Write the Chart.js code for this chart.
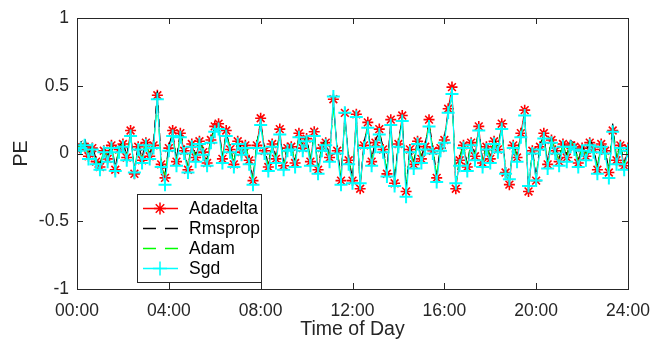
<!DOCTYPE html>
<html>
<head>
<meta charset="utf-8">
<script src="https://cdn.jsdelivr.net/npm/chart.js@4/dist/chart.umd.min.js"></script>
<style>
  html, body { margin: 0; padding: 0; background: #fff; }
  #wrap { width: 650px; height: 339px; }
</style>
</head>
<body>
<div id="wrap"><canvas id="pe-chart" width="650" height="339"></canvas></div>
<script>
// Time axis: one sample every 10 minutes, in hours
const hours = Array.from({ length: 145 }, (_, i) => i / 6);

// Prediction error per optimiser, 12 samples = 2 hours per row
const adadelta = [
  0.03, 0.05, 0.05, -0.02, 0.04, -0.06, -0.10, 0.02, -0.04, 0.06, -0.12, 0.03,
  0.07, -0.03, 0.17, -0.15, 0.05, -0.05, 0.08, -0.02, 0.06, 0.43, -0.08, -0.18,
  0.04, 0.17, -0.06, 0.15, 0.02, -0.12, 0.07, -0.03, 0.09, 0.01, -0.07, 0.10,
  0.20, 0.22, -0.04, 0.17, 0.03, -0.08, 0.09, 0.01, 0.06, -0.05, -0.20, 0.06,
  0.26, 0.02, -0.10, 0.07, -0.04, 0.18, -0.09, 0.04, 0.05, -0.07, 0.15, 0.04,
  0.11, -0.06, 0.16, -0.12, 0.04, 0.08, -0.03, 0.40, 0.02, -0.20, 0.30, -0.05,
  -0.20, 0.29, -0.26, 0.06, 0.23, -0.06, 0.08, 0.18, 0.03, -0.15, 0.25, -0.22,
  0.07, 0.28, -0.28, 0.03, -0.08, 0.09, -0.04, 0.05, 0.25, 0.02, -0.18, 0.04,
  0.10, 0.33, 0.49, -0.26, -0.05, 0.06, -0.10, 0.08, -0.02, 0.20, -0.07, 0.05,
  -0.04, 0.09, 0.03, 0.22, -0.14, -0.23, 0.06, -0.03, 0.15, 0.32, -0.28, 0.02,
  -0.20, 0.05, 0.15, -0.08, 0.10, 0.02, -0.06, 0.07, -0.03, 0.06, 0.05, -0.07,
  0.04, -0.02, 0.08, 0.03, -0.12, 0.07, 0.02, -0.14, 0.17, -0.05, 0.06, -0.09,
  0.04
];
const rmsprop = [
  0.05, 0.08, 0.12, 0.00, 0.06, -0.04, -0.08, 0.04, -0.02, 0.08, -0.10, 0.05,
  0.09, -0.01, 0.15, -0.12, 0.07, -0.03, 0.10, 0.00, 0.08, 0.48, -0.06, -0.15,
  0.06, 0.15, -0.04, 0.17, 0.04, -0.10, 0.09, -0.01, 0.11, 0.03, -0.05, 0.12,
  0.18, 0.21, -0.02, 0.15, 0.05, -0.06, 0.11, 0.03, 0.08, -0.03, -0.18, 0.08,
  0.23, 0.04, -0.08, 0.09, -0.02, 0.16, -0.07, 0.06, 0.07, -0.05, 0.13, 0.06,
  0.13, -0.04, 0.15, -0.10, 0.06, 0.10, -0.01, 0.36, 0.04, -0.17, 0.27, -0.03,
  -0.18, 0.26, -0.23, 0.08, 0.21, -0.04, 0.10, 0.16, 0.05, -0.12, 0.22, -0.19,
  0.09, 0.26, -0.25, 0.05, -0.06, 0.11, -0.02, 0.07, 0.23, 0.04, -0.15, 0.06,
  0.12, 0.30, 0.46, -0.23, -0.03, 0.08, -0.08, 0.10, 0.00, 0.19, -0.05, 0.07,
  -0.02, 0.11, 0.05, 0.20, -0.12, -0.20, 0.08, -0.01, 0.14, 0.29, -0.25, 0.04,
  -0.17, 0.07, 0.13, -0.06, 0.12, 0.04, -0.04, 0.09, -0.01, 0.10, 0.07, -0.05,
  0.06, 0.00, 0.11, 0.05, -0.10, 0.09, 0.04, -0.12, 0.22, -0.03, 0.08, -0.07,
  0.06
];
const adam = [
  0.04, 0.06, 0.08, -0.01, 0.05, -0.05, -0.09, 0.03, -0.03, 0.07, -0.11, 0.04,
  0.08, -0.02, 0.14, -0.13, 0.06, -0.04, 0.09, -0.01, 0.07, 0.36, -0.07, -0.16,
  0.05, 0.14, -0.05, 0.14, 0.03, -0.11, 0.08, -0.02, 0.10, 0.02, -0.06, 0.11,
  0.17, 0.19, -0.03, 0.14, 0.04, -0.07, 0.10, 0.02, 0.07, -0.04, -0.19, 0.07,
  0.22, 0.03, -0.09, 0.08, -0.03, 0.15, -0.08, 0.05, 0.06, -0.06, 0.12, 0.05,
  0.12, -0.05, 0.14, -0.11, 0.05, 0.09, -0.02, 0.34, 0.03, -0.18, 0.25, -0.04,
  -0.19, 0.25, -0.24, 0.07, 0.20, -0.05, 0.09, 0.15, 0.04, -0.13, 0.21, -0.20,
  0.08, 0.25, -0.26, 0.04, -0.07, 0.10, -0.03, 0.06, 0.22, 0.03, -0.16, 0.05,
  0.11, 0.28, 0.42, -0.24, -0.04, 0.07, -0.09, 0.09, -0.01, 0.18, -0.06, 0.06,
  -0.03, 0.10, 0.04, 0.19, -0.13, -0.21, 0.07, -0.02, 0.13, 0.27, -0.26, 0.03,
  -0.18, 0.06, 0.12, -0.07, 0.11, 0.03, -0.05, 0.08, -0.02, 0.09, 0.06, -0.06,
  0.05, -0.01, 0.10, 0.04, -0.11, 0.08, 0.03, -0.13, 0.18, -0.04, 0.07, -0.08,
  0.05
];
const sgd = [
  0.02, 0.04, 0.06, -0.04, 0.03, -0.08, -0.12, 0.01, -0.06, 0.04, -0.13, 0.01,
  0.05, -0.05, 0.13, -0.14, 0.03, -0.07, 0.06, -0.04, 0.04, 0.40, -0.10, -0.23,
  0.02, 0.13, -0.09, 0.12, 0.00, -0.14, 0.05, -0.06, 0.07, -0.01, -0.09, 0.08,
  0.16, 0.18, -0.07, 0.13, 0.01, -0.10, 0.07, -0.01, 0.04, -0.08, -0.23, 0.04,
  0.21, 0.00, -0.13, 0.05, -0.07, 0.14, -0.12, 0.02, 0.03, -0.10, 0.12, 0.02,
  0.09, -0.09, 0.13, -0.15, 0.02, 0.06, -0.06, 0.42, 0.00, -0.23, 0.30, -0.08,
  -0.22, 0.27, -0.22, 0.04, 0.19, -0.09, 0.05, 0.14, 0.01, -0.17, 0.21, -0.24,
  0.05, 0.24, -0.32, 0.01, -0.11, 0.07, -0.07, 0.03, 0.20, 0.00, -0.21, 0.02,
  0.08, 0.30, 0.44, -0.22, -0.09, 0.04, -0.13, 0.06, -0.05, 0.17, -0.10, 0.03,
  -0.07, 0.07, 0.01, 0.18, -0.15, -0.19, 0.04, -0.06, 0.12, 0.28, -0.24, 0.00,
  -0.20, 0.03, 0.11, -0.11, 0.08, 0.00, -0.09, 0.05, -0.06, 0.05, 0.03, -0.10,
  0.02, -0.05, 0.06, 0.01, -0.15, 0.05, 0.00, -0.18, 0.16, -0.08, 0.04, -0.12,
  0.02
];

const seriesNames = ['Adadelta', 'Rmsprop', 'Adam', 'Sgd'];
const yTicks = [-1, -0.5, 0, 0.5, 1];
const xTickHours = [0, 4, 8, 12, 16, 20, 24];

const FONT = 'Arial, "Liberation Sans", Helvetica, sans-serif';
const TEXT = '#262626';

function toPoints(values) {
  return values.map((v, i) => ({ x: hours[i], y: v }));
}

// Box round the axes with MATLAB-style inward ticks
const boxPlugin = {
  id: 'matlabBox',
  afterDatasetsDraw(chart) {
    const { ctx, chartArea: a, scales } = chart;
    ctx.save();
    ctx.strokeStyle = TEXT;
    ctx.lineWidth = 1;
    ctx.strokeRect(Math.round(a.left) + 0.5, Math.round(a.top) + 0.5,
      Math.round(a.right - a.left), Math.round(a.bottom - a.top));
    ctx.beginPath();
    xTickHours.forEach(h => {
      const x = Math.round(scales.x.getPixelForValue(h)) + 0.5;
      ctx.moveTo(x, a.bottom); ctx.lineTo(x, a.bottom - 6);
      ctx.moveTo(x, a.top); ctx.lineTo(x, a.top + 6);
    });
    yTicks.forEach(v => {
      const y = Math.round(scales.y.getPixelForValue(v)) + 0.5;
      ctx.moveTo(a.left, y); ctx.lineTo(a.left + 6, y);
      ctx.moveTo(a.right, y); ctx.lineTo(a.right - 6, y);
    });
    ctx.stroke();
    ctx.restore();
  }
};

// Legend drawn inside the axes, lower left
const legendPlugin = {
  id: 'insideLegend',
  afterDraw(chart) {
    const ctx = chart.ctx;
    const left = 137, top = 194, w = 124, h = 88;
    ctx.save();
    ctx.fillStyle = '#fff';
    ctx.fillRect(left, top, w, h);
    ctx.strokeStyle = TEXT;
    ctx.lineWidth = 1;
    ctx.strokeRect(left + 0.5, top + 0.5, w, h);
    ctx.font = '17.5px ' + FONT;
    ctx.textBaseline = 'middle';
    chart.data.datasets.forEach((ds, i) => {
      const y = top + 14 + i * 20 + 0.5;
      ctx.strokeStyle = ds.borderColor;
      ctx.lineWidth = 1.5;
      ctx.setLineDash(ds.borderDash ? [13, 9] : []);
      ctx.beginPath();
      ctx.moveTo(left + 6, y);
      ctx.lineTo(left + 41, y);
      ctx.stroke();
      ctx.setLineDash([]);
      if (ds.pointRadius > 0) {
        ctx.fillStyle = ds.borderColor;
        Chart.helpers.drawPoint(ctx, {
          pointStyle: ds.pointStyle,
          radius: ds.pointRadius + 0.5,
          borderWidth: ds.pointBorderWidth,
          rotation: 0
        }, left + 23, y);
      }
      ctx.fillStyle = '#000';
      ctx.fillText(ds.label, left + 52, y + 1);
    });
    ctx.restore();
  }
};

const ctx = document.getElementById('pe-chart').getContext('2d');
new Chart(ctx, {
  type: 'line',
  data: {
    datasets: [
      {
        label: seriesNames[0], data: toPoints(adadelta), order: 4,
        borderColor: '#ff0000', backgroundColor: '#ff0000', borderWidth: 1,
        pointStyle: 'star', pointRadius: 5.5, pointBorderWidth: 1.6
      },
      {
        label: seriesNames[1], data: toPoints(rmsprop), order: 3,
        borderColor: '#000000', borderWidth: 1, borderDash: [8, 6], pointRadius: 0
      },
      {
        label: seriesNames[2], data: toPoints(adam), order: 2,
        borderColor: '#00ff00', borderWidth: 1, borderDash: [8, 6], pointRadius: 0
      },
      {
        label: seriesNames[3], data: toPoints(sgd), order: 1,
        borderColor: '#00ffff', backgroundColor: '#00ffff', borderWidth: 1.2,
        pointStyle: 'cross', pointRadius: 6.5, pointBorderWidth: 2
      }
    ]
  },
  options: {
    responsive: false,
    animation: false,
    layout: { padding: { left: 0, right: 22, top: 18, bottom: 0 } },
    plugins: { legend: { display: false }, tooltip: { enabled: false } },
    elements: { line: { tension: 0 } },
    scales: {
      x: {
        type: 'linear', min: 0, max: 24,
        grid: { display: false, drawTicks: false }, border: { display: false },
        afterBuildTicks: s => { s.ticks = xTickHours.map(v => ({ value: v })); },
        afterFit: s => { s.height = 50; s.paddingLeft = 0; s.paddingRight = 0; },
        ticks: {
          color: TEXT, padding: 12, maxRotation: 0, autoSkip: false,
          font: { family: FONT, size: 17.5 },
          callback: v => String(v).padStart(2, '0') + ':00'
        },
        title: {
          display: true, text: 'Time of Day', color: TEXT, padding: 0,
          font: { family: FONT, size: 19.5, lineHeight: 1 }
        }
      },
      y: {
        min: -1, max: 1,
        grid: { display: false, drawTicks: false }, border: { display: false },
        afterBuildTicks: s => { s.ticks = yTicks.map(v => ({ value: v })); },
        afterFit: s => { s.width = 77; s.paddingTop = 0; s.paddingBottom = 0; },
        ticks: {
          color: TEXT, padding: 8,
          font: { family: FONT, size: 17.5 },
          callback: v => String(v)
        },
        title: {
          display: true, text: 'PE', color: TEXT, padding: { top: 10, bottom: 0 },
          font: { family: FONT, size: 19.5 }
        }
      }
    }
  },
  plugins: [boxPlugin, legendPlugin]
});
</script>
</body>
</html>
